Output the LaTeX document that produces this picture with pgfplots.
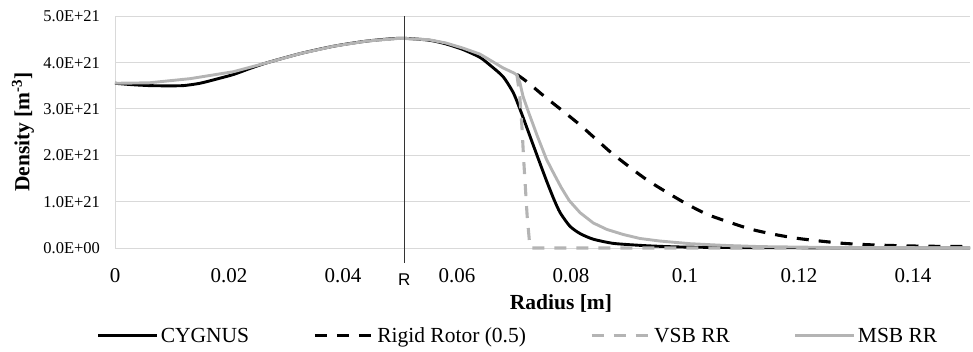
\documentclass[border=0pt]{standalone}
\usepackage{pgfplots}
\pgfplotsset{compat=1.18}
\usepackage{fontspec}
\setmainfont{Liberation Serif}
\newfontfamily\rfont{Liberation Sans}
\definecolor{gridgray}{HTML}{D9D9D9}
\definecolor{sergray}{HTML}{B4B4B4}
\begin{document}
\begin{tikzpicture}
\path[use as bounding box] (0,0) rectangle (973pt,351pt);
\begin{axis}[
  at={(115pt,103pt)}, anchor=south west,
  scale only axis, width=855pt, height=232pt,
  xmin=0, xmax=0.15, ymin=0, ymax=5,
  xtick={0,0.02,0.04,0.06,0.08,0.1,0.12,0.14},
  xticklabels={0,0.02,0.04,0.06,0.08,0.1,0.12,0.14},
  ytick={0,1,2,3,4,5},
  yticklabels={0.0E+00,1.0E+21,2.0E+21,3.0E+21,4.0E+21,5.0E+21},
  axis lines*=left,
  axis line style={gridgray, line width=1pt, -},
  major tick length=0pt,
  tick style={draw=none},
  ymajorgrids,
  grid style={gridgray, line width=1pt},
  xticklabel style={font=\fontsize{21}{21}\selectfont, anchor=base, yshift=-34pt},
  yticklabel style={font=\fontsize{16.5}{16.5}\selectfont, anchor=base east, xshift=-11.5pt, yshift=-5.7pt},
  xlabel={Radius [m]},
  ylabel={Density [m\textsuperscript{-3}]},
  xlabel style={font=\fontsize{21.5}{21.5}\selectfont\bfseries, at={(axis description cs:0.5216,-0.267)}, anchor=base},
  ylabel style={font=\fontsize{21.5}{21.5}\selectfont\bfseries, at={(axis description cs:-0.1076,0.5)}, anchor=center},
  clip=false,
  legend columns=4,
  legend style={at={(axis description cs:0.4715,-0.379)}, anchor=center, draw=none, fill=none,
    font=\fontsize{21.5}{21.5}\selectfont, inner sep=0pt,
    /tikz/every even column/.append style={column sep=62pt},
    /tikz/every odd column/.append style={column sep=0pt},
    nodes={inner sep=2pt}},
  legend image code/.code={\draw[#1] (0pt,0pt) -- (59pt,0pt);},
]
\addplot[black, line width=2.9pt, smooth, tension=0.4] coordinates {
(0,3.55)(0.003,3.52)(0.006,3.50)(0.009,3.495)(0.012,3.50)(0.0149,3.55)(0.0178,3.64)(0.0208,3.74)(0.0237,3.87)(0.0266,3.99)(0.0325,4.19)(0.0384,4.35)(0.0442,4.46)(0.050,4.52)(0.055,4.48)(0.058,4.40)(0.061,4.28)(0.064,4.11)(0.0658,3.94)(0.0681,3.69)(0.0699,3.34)(0.0713,2.91)(0.0728,2.41)(0.0743,1.91)(0.0757,1.45)(0.0770,1.05)(0.0781,0.76)(0.0798,0.47)(0.0816,0.31)(0.0839,0.19)(0.0874,0.10)(0.0921,0.057)(0.0956,0.036)(0.100,0.02)(0.110,0.008)(0.130,0.002)(0.150,0)
};
\addlegendentry{CYGNUS}
\addplot[black, line width=3.1pt, dash pattern=on 12pt off 10pt, smooth, tension=0.4] coordinates {
(0.0705,3.74)(0.0722,3.59)(0.0755,3.25)(0.0787,2.94)(0.0816,2.65)(0.0848,2.30)(0.0874,2.02)(0.0933,1.47)(0.0997,0.99)(0.1038,0.73)(0.1079,0.55)(0.1117,0.40)(0.1158,0.29)(0.1196,0.21)(0.1237,0.15)(0.1278,0.10)(0.1319,0.072)(0.136,0.055)(0.14,0.043)(0.145,0.035)(0.15,0.03)
};
\addlegendentry{Rigid Rotor (0.5)}
\addplot[sergray, line width=3.1pt, dash pattern=on 12pt off 10pt] coordinates {
(0.0705,3.74)(0.0710,3.3)(0.0714,2.6)(0.0717,1.9)(0.0720,1.3)(0.0723,0.7)(0.0727,0.15)(0.0729,0)(0.15,0)
};
\addlegendentry{VSB RR}
\addplot[sergray, line width=2.9pt] coordinates {
(0,3.55)(0.006,3.56)(0.0132,3.65)(0.0208,3.80)(0.0266,3.99)(0.0325,4.19)(0.0384,4.35)(0.0442,4.46)(0.050,4.52)(0.055,4.49)(0.058,4.42)(0.061,4.31)(0.064,4.18)(0.0658,4.05)(0.0681,3.88)(0.0700,3.77)(0.0705,3.73)(0.0710,3.58)(0.0716,3.26)(0.0726,2.91)(0.0741,2.41)(0.0757,1.91)(0.0770,1.60)(0.0783,1.30)(0.0797,1.02)(0.0816,0.76)(0.0839,0.54)(0.0863,0.40)(0.0892,0.29)(0.0921,0.205)(0.0956,0.15)(0.1009,0.093)(0.1067,0.057)(0.1132,0.03)(0.125,0.012)(0.15,0.003)
};
\addlegendentry{MSB RR}
\addplot[black!80, line width=1.1pt, forget plot] coordinates {(0.05075,-0.32)(0.05075,5)};
\node[font=\rfont\fontsize{17}{17}\selectfont, anchor=base] at (axis cs:0.05075,-0.80) {R};
\end{axis}
\end{tikzpicture}
\end{document}
